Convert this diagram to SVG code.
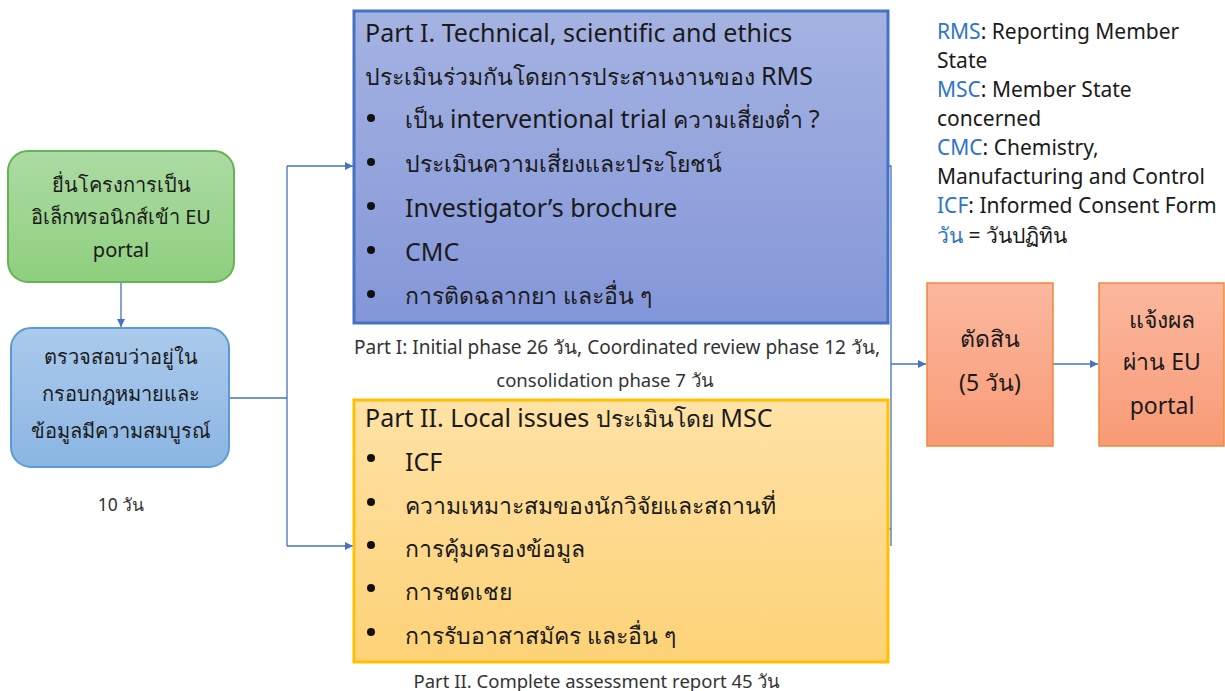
<svg xmlns="http://www.w3.org/2000/svg" width="1225" height="691" viewBox="0 0 1225 691">
<defs>
<linearGradient id="gGreen" x1="0" y1="0" x2="0" y2="1"><stop offset="0" stop-color="#acdba3"/><stop offset="1" stop-color="#8ecf7e"/></linearGradient>
<linearGradient id="gBlue" x1="0" y1="0" x2="0" y2="1"><stop offset="0" stop-color="#abcaec"/><stop offset="1" stop-color="#8bb5e3"/></linearGradient>
<linearGradient id="gP1" x1="0" y1="0" x2="0" y2="1"><stop offset="0" stop-color="#a5b3e2"/><stop offset="1" stop-color="#8396d8"/></linearGradient>
<linearGradient id="gP2" x1="0" y1="0" x2="0" y2="1"><stop offset="0" stop-color="#ffe2a6"/><stop offset="1" stop-color="#fdd277"/></linearGradient>
<linearGradient id="gOr" x1="0" y1="0" x2="0" y2="1"><stop offset="0" stop-color="#fbb89e"/><stop offset="1" stop-color="#f89a76"/></linearGradient>
<marker id="arr" viewBox="0 0 10 10" refX="10" refY="5" markerWidth="8" markerHeight="8" markerUnits="userSpaceOnUse" orient="auto"><path d="M0,0 L10,5 L0,10 z" fill="#4472c4"/></marker>
</defs>
<style>
text{font-family:"Noto Sans","Open Sans","Liberation Sans",sans-serif;fill:#1a1a1a}
.c{text-anchor:middle}
.n{font-size:20px}
.b{font-size:23px}
.L{font-size:25px}
.cap{font-size:18.5px;fill:#333}
.lg{font-size:21px}
.k{fill:#2e75c8}
.ln{fill:none;stroke:#4472c4;stroke-width:1.3}
</style>
<g id="connectors">
<path class="ln" d="M121,282 V327" marker-end="url(#arr)"/>
<path class="ln" d="M229,398 H287"/>
<path class="ln" d="M287,166 V546"/>
<path class="ln" d="M287,166 H353" marker-end="url(#arr)"/>
<path class="ln" d="M287,546 H353" marker-end="url(#arr)"/>
<path class="ln" d="M888,166 H891 V546"/>
<path class="ln" d="M888,529 H891"/>
<path class="ln" d="M891,364 H926" marker-end="url(#arr)"/>
<path class="ln" d="M1053,364 H1098" marker-end="url(#arr)"/>
</g>
<g id="submit">
<rect x="8" y="151" width="226" height="131" rx="20" fill="url(#gGreen)" stroke="#62b552" stroke-width="2"/>
<text class="n c" x="121" y="192">ยื่นโครงการเป็น</text>
<text class="n c" x="121" y="224">อิเล็กทรอนิกส์เข้า EU</text>
<text class="n c" x="121" y="257">portal</text>
</g>
<g id="check">
<rect x="11" y="328" width="218" height="139" rx="20" fill="url(#gBlue)" stroke="#5b9bd5" stroke-width="2"/>
<text class="n c" x="121" y="364">ตรวจสอบว่าอยู่ใน</text>
<text class="n c" x="121" y="401">กรอบกฎหมายและ</text>
<text class="n c" x="121" y="438">ข้อมูลมีความสมบูรณ์</text>
</g>
<text class="cap c" x="121" y="511" style="font-size:17.5px">10 วัน</text>
<g id="part1">
<rect x="354" y="11" width="534" height="312" fill="url(#gP1)" stroke="#4472c4" stroke-width="3"/>
<text class="L" x="365" y="42">Part I. Technical, scientific and ethics</text>
<text class="b" x="365" y="85">ประเมินร่วมกันโดยการประสานงานของ <tspan class="L">RMS</tspan></text>
<circle cx="371" cy="118" r="4" fill="#111"/><text class="b" x="405" y="128">เป็น <tspan class="L">interventional trial</tspan> ความเสี่ยงต่ำ <tspan class="L">?</tspan></text>
<circle cx="371" cy="162" r="4" fill="#111"/><text class="b" x="405" y="172">ประเมินความเสี่ยงและประโยชน์</text>
<circle cx="371" cy="206" r="4" fill="#111"/><text class="L" x="405" y="217">Investigator’s brochure</text>
<circle cx="371" cy="250" r="4" fill="#111"/><text class="L" x="405" y="261">CMC</text>
<circle cx="371" cy="294" r="4" fill="#111"/><text class="b" x="405" y="304">การติดฉลากยา และอื่น ๆ</text>
</g>
<text class="cap c" x="617" y="354" style="font-size:19px">Part I: Initial phase 26 วัน, Coordinated review phase 12 วัน,</text>
<text class="cap c" x="605" y="387">consolidation phase 7 วัน</text>
<g id="part2">
<rect x="354" y="400" width="534" height="262" fill="url(#gP2)" stroke="#ffc000" stroke-width="3"/>
<text class="L" x="365" y="427">Part II. Local issues <tspan style="font-size:23px">ประเมินโดย</tspan> MSC</text>
<circle cx="371" cy="458" r="4" fill="#111"/><text class="L" x="405" y="471">ICF</text>
<circle cx="371" cy="502" r="4" fill="#111"/><text class="b" x="405" y="514">ความเหมาะสมของนักวิจัยและสถานที่</text>
<circle cx="371" cy="545" r="4" fill="#111"/><text class="b" x="405" y="557">การคุ้มครองข้อมูล</text>
<circle cx="371" cy="588" r="4" fill="#111"/><text class="b" x="405" y="600">การชดเชย</text>
<circle cx="371" cy="632" r="4" fill="#111"/><text class="b" x="405" y="644">การรับอาสาสมัคร และอื่น ๆ</text>
</g>
<text class="cap c" x="597" y="688">Part II. Complete assessment report 45 วัน</text>
<g id="decide">
<rect x="927" y="283" width="126" height="163" fill="url(#gOr)" stroke="#f0883e" stroke-width="1.5"/>
<text class="b c" x="990" y="347">ตัดสิน</text>
<text class="b c" x="990" y="391">(5 วัน)</text>
</g>
<g id="notify">
<rect x="1099" y="283" width="125" height="163" fill="url(#gOr)" stroke="#f0883e" stroke-width="1.5"/>
<text class="b c" x="1162" y="328">แจ้งผล</text>
<text class="b c" x="1162" y="370">ผ่าน EU</text>
<text class="b c" x="1162" y="414">portal</text>
</g>
<g id="legend">
<text class="lg" x="937" y="39"><tspan class="k">RMS</tspan>: Reporting Member</text>
<text class="lg" x="937" y="68">State</text>
<text class="lg" x="937" y="97"><tspan class="k">MSC</tspan>: Member State</text>
<text class="lg" x="937" y="126">concerned</text>
<text class="lg" x="937" y="155"><tspan class="k">CMC</tspan>: Chemistry,</text>
<text class="lg" x="937" y="184">Manufacturing and Control</text>
<text class="lg" x="937" y="213"><tspan class="k">ICF</tspan>: Informed Consent Form</text>
<text class="lg" x="937" y="243"><tspan class="k">วัน</tspan> = วันปฏิทิน</text>
</g>
</svg>
